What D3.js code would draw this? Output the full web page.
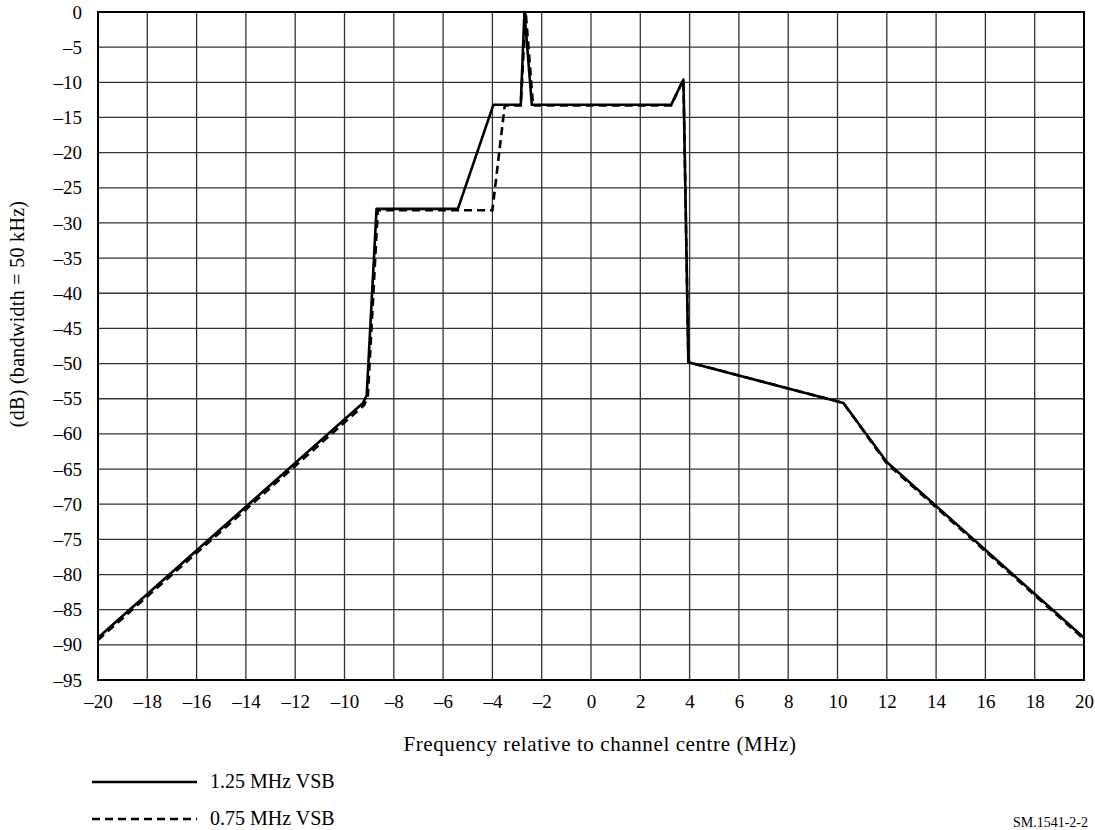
<!DOCTYPE html>
<html><head><meta charset="utf-8">
<script src="https://cdn.jsdelivr.net/npm/d3@7"></script>
<style>
body{margin:0;background:#fff;}
text{font-family:"Liberation Serif","Times New Roman",serif;fill:#000;}
</style></head>
<body><svg id="c" width="1095" height="830"></svg>
<script>
const xTicks = [-20,-18,-16,-14,-12,-10,-8,-6,-4,-2,0,2,4,6,8,10,12,14,16,18,20];
const yTicks = [0,-5,-10,-15,-20,-25,-30,-35,-40,-45,-50,-55,-60,-65,-70,-75,-80,-85,-90,-95];
const seriesNames = ["1.25 MHz VSB","0.75 MHz VSB"];
const solidX = [-20,-9.25,-9.1,-8.7,-5.4,-3.96,-2.85,-2.7,-2.4,3.25,3.75,3.95,10.24,12,20];
const solidY = [-89,-55.6,-54.5,-28,-28,-13.2,-13.2,0,-13.2,-13.2,-9.6,-49.8,-55.6,-64,-89];
const dashX = [-20,-9.2,-9.05,-8.65,-4.0,-3.5,-2.85,-2.65,-2.35,3.25,3.75,3.95,10.24,12,20];
const dashY = [-89.3,-55.9,-54.5,-28.2,-28.2,-13.3,-13.3,0,-13.3,-13.3,-9.6,-49.8,-55.6,-64.2,-89.2];

const svg = d3.select("#c");
const L=98, R=1084, T=12, B=680;
const x = d3.scaleLinear().domain([-20,20]).range([L,R]);
const y = d3.scaleLinear().domain([-95,0]).range([B,T]);
const minus = v => v<0 ? "\u2013"+Math.abs(v) : String(v);

const g = svg.append("g");
g.selectAll("line.vx").data(xTicks).enter().append("line")
 .attr("x1",d=>x(d)).attr("x2",d=>x(d)).attr("y1",T).attr("y2",B)
 .attr("stroke","#333").attr("stroke-width",1.3);
g.selectAll("line.hy").data(yTicks).enter().append("line")
 .attr("y1",d=>y(d)).attr("y2",d=>y(d)).attr("x1",L).attr("x2",R)
 .attr("stroke","#333").attr("stroke-width",1.3);
g.append("rect").attr("x",L).attr("y",T).attr("width",R-L).attr("height",B-T)
 .attr("fill","none").attr("stroke","#000").attr("stroke-width",2);

const xa = svg.append("g").attr("transform",`translate(0,${B})`)
 .call(d3.axisBottom(x).tickValues(xTicks).tickFormat(minus).tickSize(0).tickPadding(15));
xa.select(".domain").remove();
xa.selectAll("text").attr("font-size",19).attr("font-family","Liberation Serif");
const ya = svg.append("g").attr("transform",`translate(${L},0)`)
 .call(d3.axisLeft(y).tickValues(yTicks).tickFormat(minus).tickSize(0).tickPadding(16));
ya.select(".domain").remove();
ya.selectAll("text").attr("font-size",19).attr("font-family","Liberation Serif");

const line = d3.line().x(d=>x(d[0])).y(d=>y(d[1]));
const sData = solidX.map((v,i)=>[v,solidY[i]]);
const dData = dashX.map((v,i)=>[v,dashY[i]]);
svg.append("path").attr("d",line(dData)).attr("fill","none").attr("stroke","#000")
 .attr("stroke-width",2.6).attr("stroke-dasharray","8,5");
svg.append("path").attr("d",line(sData)).attr("fill","none").attr("stroke","#000")
 .attr("stroke-width",2.6).attr("stroke-linejoin","round");

svg.append("text").attr("x",600).attr("y",751).attr("text-anchor","middle")
 .attr("font-size",21).attr("letter-spacing",0.6).text("Frequency relative to channel centre (MHz)");
svg.append("text").attr("transform",`translate(24,314) rotate(-90)`)
 .attr("text-anchor","middle").attr("font-size",20).attr("letter-spacing",0.3).text("(dB) (bandwidth = 50 kHz)");

const leg = svg.append("g");
[0,1].forEach(i=>{
  const yy = [782,819][i];
  leg.append("line").attr("x1",92).attr("x2",197).attr("y1",yy).attr("y2",yy)
   .attr("stroke","#000").attr("stroke-width",2.6)
   .attr("stroke-dasharray", i===1?"8,5":null);
  leg.append("text").attr("x",210).attr("y",yy+6).attr("font-size",20)
   .text(seriesNames[i]);
});
svg.append("text").attr("x",1088).attr("y",827).attr("text-anchor","end")
 .attr("font-size",14).text("SM.1541-2-2");
</script></body></html>
